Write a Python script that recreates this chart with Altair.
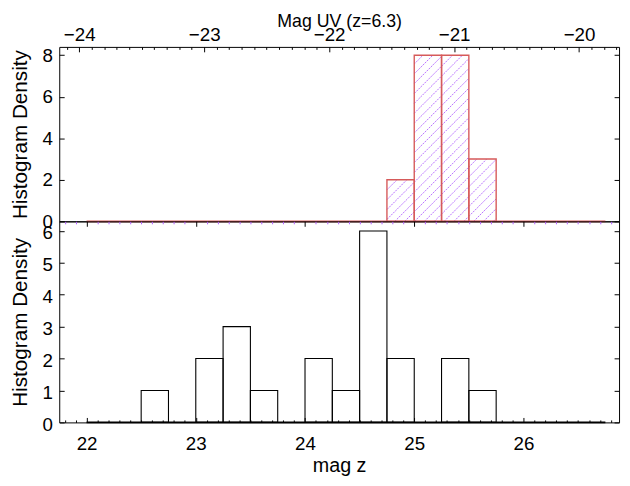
import altair as alt
import numpy as np
import pandas as pd

# ---------------- data ----------------
zmag_left = [22.5, 23.0, 23.25, 23.5, 24.0, 24.25, 24.5, 24.75, 25.25, 25.5]
zmag_density = [1, 2, 3, 1, 2, 1, 6, 2, 2, 1]
uv_left = [24.75, 25.0, 25.25, 25.5]
uv_density = [2, 8, 8, 3]
bin_width = 0.25
hist_range = [22.0, 26.75]

zmag_ticks = [22, 23, 24, 25, 26]
uv_ticks = [-24, -23, -22, -21, -20]
top_y_ticks = [0, 2, 4, 6, 8]
bottom_y_ticks = [0, 1, 2, 3, 4, 5, 6]

x_domain = [21.75, 26.875]
uv_domain = [-24.16, -19.68]
top_y_domain = [0, 8.4]
bottom_y_domain = [0, 6.3]

# ---------------- layout / style ----------------
W = 568
H_TOP = 177
H_BOT = 204
FONT = "Liberation Sans"
LBL = 19
HATCH = "#b061ff"
RED = "#d65a5a"


def minor_values(lo, hi):
    vals = np.round(np.arange(lo, hi + 1e-9, 0.1), 2)
    return [float(v) for v in vals if not np.isclose(v, np.round(v))]


zmag_minor = minor_values(21.8, 26.8)
uv_minor = minor_values(-24.1, -19.7)


def inward(orient, values, size, color="black", **kw):
    return alt.Axis(orient=orient, values=values, tickSize=size, offset=-size,
                    domain=False, grid=False, tickColor=color, tickWidth=1,
                    labelFlush=False, labelOverlap=False, **kw)


def bars_df(lefts, dens):
    return pd.DataFrame({"left": lefts,
                         "right": [l + bin_width for l in lefts],
                         "density": dens,
                         "zero": [0] * len(lefts)})


def hatch_df(lefts, dens, xdom, ydom, w, h, spacing=10.0):
    sx = w / (xdom[1] - xdom[0])
    sy = h / (ydom[1] - ydom[0])
    rows = []
    for l, d in zip(lefts, dens):
        X0 = (l - xdom[0]) * sx
        X1 = (l + bin_width - xdom[0]) * sx
        Hp = d * sy
        c = np.floor((X0 - Hp) / spacing) * spacing + 0.5
        while c < X1:
            s = max(X0, c)
            e = min(X1, c + Hp)
            if e > s:
                rows.append({"x": s / sx + xdom[0], "y": (s - c) / sy,
                             "x2": e / sx + xdom[0], "y2": (e - c) / sy})
            c += spacing
    return pd.DataFrame(rows)


def xs():
    return alt.Scale(domain=x_domain, nice=False, zero=False)


def uvs():
    return alt.Scale(domain=uv_domain, nice=False, zero=False)


def ys(dom):
    return alt.Scale(domain=dom, nice=False, zero=False)


range_df = pd.DataFrame({"start": [hist_range[0]], "end": [hist_range[1]], "zero": [0]})


def x_tick_layer(values, xscale, axis, ydom):
    df = pd.DataFrame({"v": values, "yy": [ydom[0]] * len(values)})
    return alt.Chart(df).mark_point(opacity=0).encode(
        x=alt.X("v:Q", scale=xscale, axis=axis),
        y=alt.Y("yy:Q", scale=ys(ydom), axis=None))


def y_tick_layer(values, ydom, axis):
    df = pd.DataFrame({"v": values, "xx": [hist_range[0]] * len(values)})
    return alt.Chart(df).mark_point(opacity=0).encode(
        x=alt.X("xx:Q", scale=xs(), axis=None),
        y=alt.Y("v:Q", scale=ys(ydom), axis=axis))


# ---------------- top panel ----------------
top_bars = bars_df(uv_left, uv_density)
top_hatch = hatch_df(uv_left, uv_density, x_domain, top_y_domain, W, H_TOP)

hatch_top = alt.Chart(top_hatch).mark_rule(color=HATCH, strokeWidth=0.9,
                                           strokeDash=[2, 1]).encode(
    x=alt.X("x:Q", scale=xs(), axis=None),
    y=alt.Y("y:Q", scale=ys(top_y_domain), axis=None),
    x2="x2:Q", y2="y2:Q")

rect_top = alt.Chart(top_bars).mark_rect(fill="white", fillOpacity=0, stroke=RED,
                                         strokeWidth=1.4).encode(
    x=alt.X("left:Q", scale=xs(), axis=None),
    x2="right:Q",
    y=alt.Y("density:Q", scale=ys(top_y_domain),
            axis=inward("left", top_y_ticks, 5, title="Histogram Density",
                        labelPadding=7, titlePadding=12, titleFontSize=21,
                        labelOffset=0)),
    y2="zero:Q")

base_top = alt.Chart(range_df).mark_rule(color=RED, strokeWidth=1.6).encode(
    x=alt.X("start:Q", scale=xs(), axis=None), x2="end:Q",
    y=alt.Y("zero:Q", scale=ys(top_y_domain), axis=None))

right_top = y_tick_layer(top_y_ticks, top_y_domain,
                         inward("right", top_y_ticks, 5, labels=False, title=None))
uv_major = x_tick_layer(uv_ticks, uvs(),
                        inward("top", uv_ticks, 5, title="Mag UV (z=6.3)",
                               labelPadding=2, titlePadding=-4, titleFontSize=18),
                        top_y_domain)
uv_minor_l = x_tick_layer(uv_minor, uvs(),
                          inward("top", uv_minor, 2.5, labels=False, title=None),
                          top_y_domain)

top = alt.layer(hatch_top, rect_top, base_top, right_top, uv_major, uv_minor_l).resolve_scale(
    x="independent", y="independent").resolve_axis(
    x="independent", y="independent").properties(width=W, height=H_TOP)

# ---------------- bottom panel ----------------
bot_bars = bars_df(zmag_left, zmag_density)

rect_bot = alt.Chart(bot_bars).mark_rect(fill="white", fillOpacity=0, stroke="black",
                                         strokeWidth=1.1).encode(
    x=alt.X("left:Q", scale=xs(),
            axis=inward("bottom", zmag_ticks, 5, title="mag z",
                        labelPadding=13, titlePadding=2, titleFontSize=20)),
    x2="right:Q",
    y=alt.Y("density:Q", scale=ys(bottom_y_domain),
            axis=inward("left", bottom_y_ticks, 5, title="Histogram Density",
                        labelPadding=7, titlePadding=12, titleFontSize=21,
                        labelOffset=2)),
    y2="zero:Q")

base_bot = alt.Chart(range_df).mark_rule(color="black", strokeWidth=1.6).encode(
    x=alt.X("start:Q", scale=xs(), axis=None), x2="end:Q",
    y=alt.Y("zero:Q", scale=ys(bottom_y_domain), axis=None))

bot_minor = x_tick_layer(zmag_minor, xs(),
                         inward("bottom", zmag_minor, 2.5, labels=False, title=None),
                         bottom_y_domain)
bound_major = x_tick_layer(zmag_ticks, xs(),
                           inward("top", zmag_ticks, 5, labels=False, title=None),
                           bottom_y_domain)
bound_minor = x_tick_layer(zmag_minor, xs(),
                           inward("top", zmag_minor, 2.5, color=HATCH,
                                  labels=False, title=None),
                           bottom_y_domain)
right_bot = y_tick_layer(bottom_y_ticks, bottom_y_domain,
                         inward("right", bottom_y_ticks, 5, labels=False, title=None))

bottom = alt.layer(rect_bot, base_bot, bot_minor, bound_major, bound_minor, right_bot).resolve_scale(
    x="independent", y="independent").resolve_axis(
    x="independent", y="independent").properties(width=W, height=H_BOT)

chart = alt.vconcat(top, bottom, spacing=0, bounds="flush").configure_view(
    stroke="black", strokeWidth=1).configure_axis(
    labelFont=FONT, titleFont=FONT, labelFontSize=LBL, labelColor="black",
    titleColor="black", titleFontWeight="normal").properties(
    padding={"left": 0, "top": 0, "right": 2, "bottom": 2})

chart.save("out.html", embed_options={"renderer": "svg", "actions": False})
